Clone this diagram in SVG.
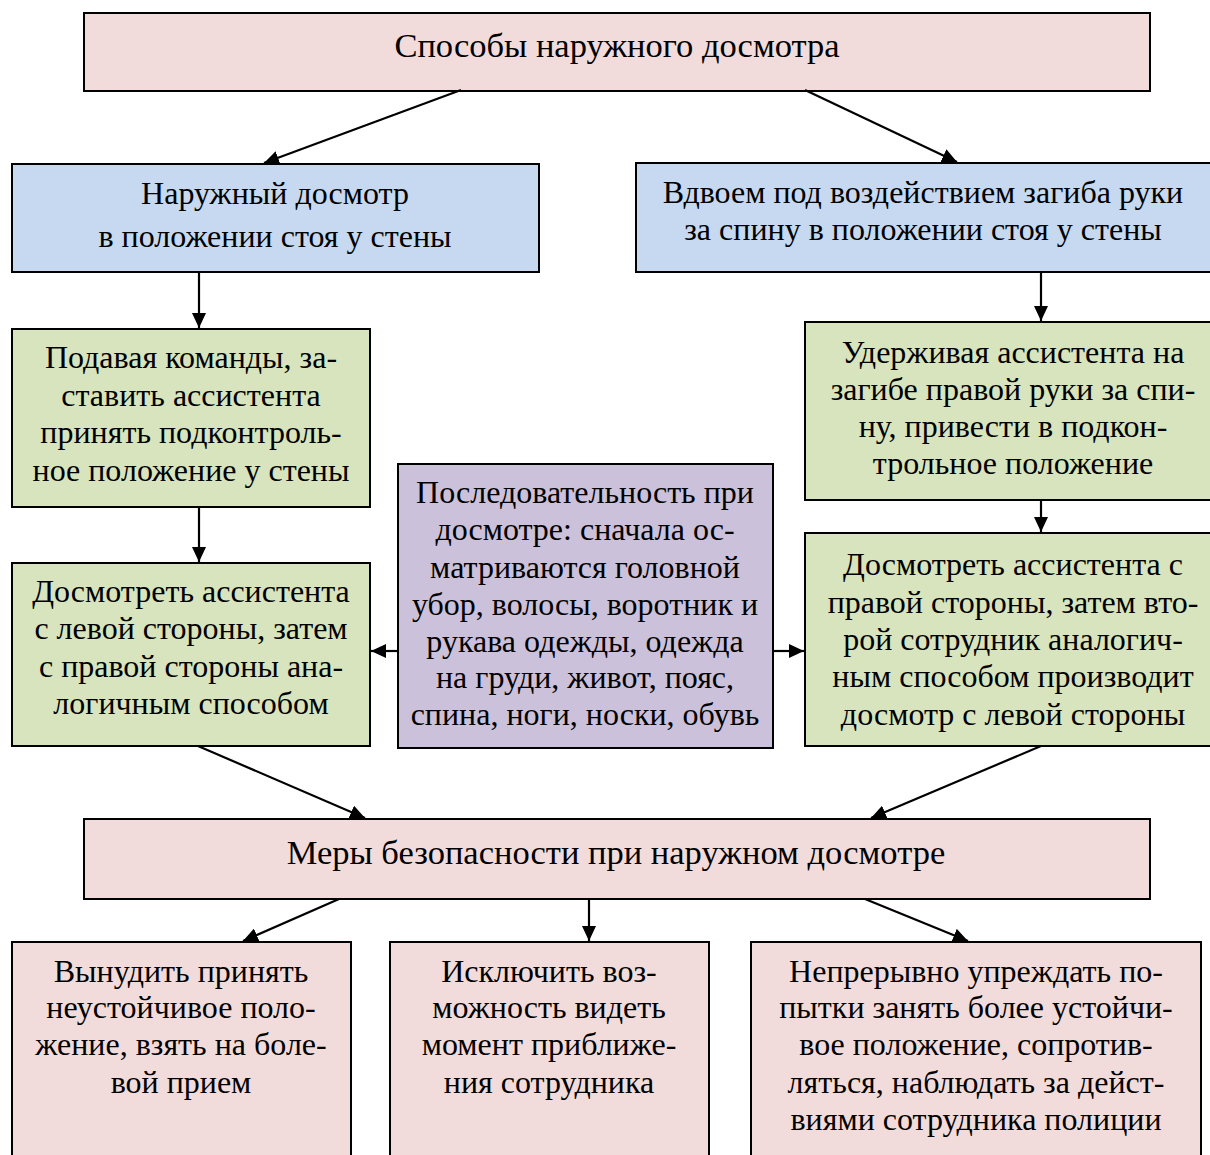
<svg xmlns="http://www.w3.org/2000/svg" width="1210" height="1155" viewBox="0 0 1210 1155">
<style>
.b{stroke:#000;stroke-width:2}
.pink{fill:#f2dcdb}.blue{fill:#c6d9f1}.green{fill:#d7e4bd}.purple{fill:#ccc1da}
text{font-family:"Liberation Serif","Times New Roman",serif;font-size:32px;fill:#000;text-anchor:middle}
text.t{font-size:34.5px}
.c line{stroke:#000;stroke-width:2.2;marker-end:url(#ah)}
</style>
<defs>
<marker id="ah" markerUnits="userSpaceOnUse" markerWidth="16" markerHeight="14" refX="15" refY="7" orient="auto">
<path d="M0,0 L15,7 L0,14 z" fill="#000"/>
</marker>
</defs>
<rect width="1210" height="1155" fill="#fff"/>
<g id="n-top"><rect class="b pink" x="84" y="13" width="1066" height="78"/><text class="t" x="617" y="57">Способы наружного досмотра</text></g>
<g id="n-blue-left"><rect class="b blue" x="12" y="164" width="527" height="108"/><text x="275" y="204">Наружный досмотр</text><text x="275" y="247">в положении стоя у стены</text></g>
<g id="n-blue-right"><rect class="b blue" x="636" y="163" width="580" height="109"/><text x="923" y="203">Вдвоем под воздействием загиба руки</text><text x="923" y="240">за спину в положении стоя у стены</text></g>
<g id="n-green-l1"><rect class="b green" x="12" y="329" width="358" height="178"/><text x="191" y="368">Подавая команды, за-</text><text x="191" y="406">ставить ассистента</text><text x="191" y="443">принять подконтроль-</text><text x="191" y="481">ное положение у стены</text></g>
<g id="n-green-l2"><rect class="b green" x="12" y="563" width="358" height="183"/><text x="191" y="602">Досмотреть ассистента</text><text x="191" y="639">с левой стороны, затем</text><text x="191" y="677">с правой стороны ана-</text><text x="191" y="714">логичным способом</text></g>
<g id="n-purple"><rect class="b purple" x="398" y="464" width="375" height="284"/><text x="585" y="503">Последовательность при</text><text x="585" y="540">досмотре: сначала ос-</text><text x="585" y="578">матриваются головной</text><text x="585" y="615">убор, волосы, воротник и</text><text x="585" y="652">рукава одежды, одежда</text><text x="585" y="688">на груди, живот, пояс,</text><text x="585" y="725">спина, ноги, носки, обувь</text></g>
<g id="n-green-r1"><rect class="b green" x="805" y="322" width="415" height="178"/><text x="1013" y="363">Удерживая ассистента на</text><text x="1013" y="400">загибе правой руки за спи-</text><text x="1013" y="437">ну, привести в подкон-</text><text x="1013" y="474">трольное положение</text></g>
<g id="n-green-r2"><rect class="b green" x="805" y="533" width="415" height="213"/><text x="1013" y="575">Досмотреть ассистента с</text><text x="1013" y="613">правой стороны, затем вто-</text><text x="1013" y="650">рой сотрудник аналогич-</text><text x="1013" y="687">ным способом производит</text><text x="1013" y="725">досмотр с левой стороны</text></g>
<g id="n-measures"><rect class="b pink" x="84" y="819" width="1066" height="80"/><text class="t" x="616" y="864">Меры безопасности при наружном досмотре</text></g>
<g id="n-b1"><rect class="b pink" x="12" y="942" width="339" height="230"/><text x="181" y="982">Вынудить принять</text><text x="181" y="1018">неустойчивое поло-</text><text x="181" y="1055">жение, взять на боле-</text><text x="181" y="1093">вой прием</text></g>
<g id="n-b2"><rect class="b pink" x="390" y="942" width="319" height="230"/><text x="549" y="982">Исключить воз-</text><text x="549" y="1018">можность видеть</text><text x="549" y="1055">момент приближе-</text><text x="549" y="1093">ния сотрудника</text></g>
<g id="n-b3"><rect class="b pink" x="751" y="942" width="450" height="230"/><text x="976" y="982">Непрерывно упреждать по-</text><text x="976" y="1018">пытки занять более устойчи-</text><text x="976" y="1055">вое положение, сопротив-</text><text x="976" y="1093">ляться, наблюдать за дейст-</text><text x="976" y="1130">виями сотрудника полиции</text></g>
<g id="connectors" class="c">
<line x1="461" y1="90" x2="264" y2="163"/>
<line x1="805" y1="90" x2="957" y2="162"/>
<line x1="199" y1="272" x2="199" y2="328"/>
<line x1="1041" y1="272" x2="1041" y2="321"/>
<line x1="199" y1="507" x2="199" y2="562"/>
<line x1="1041" y1="500" x2="1041" y2="532"/>
<line x1="398" y1="651" x2="371" y2="651"/>
<line x1="773" y1="651" x2="804" y2="651"/>
<line x1="198" y1="746" x2="365" y2="818"/>
<line x1="1041" y1="746" x2="871" y2="818"/>
<line x1="339" y1="899" x2="243" y2="941"/>
<line x1="589" y1="899" x2="589" y2="941"/>
<line x1="865" y1="899" x2="968" y2="941"/>
</g>
</svg>
